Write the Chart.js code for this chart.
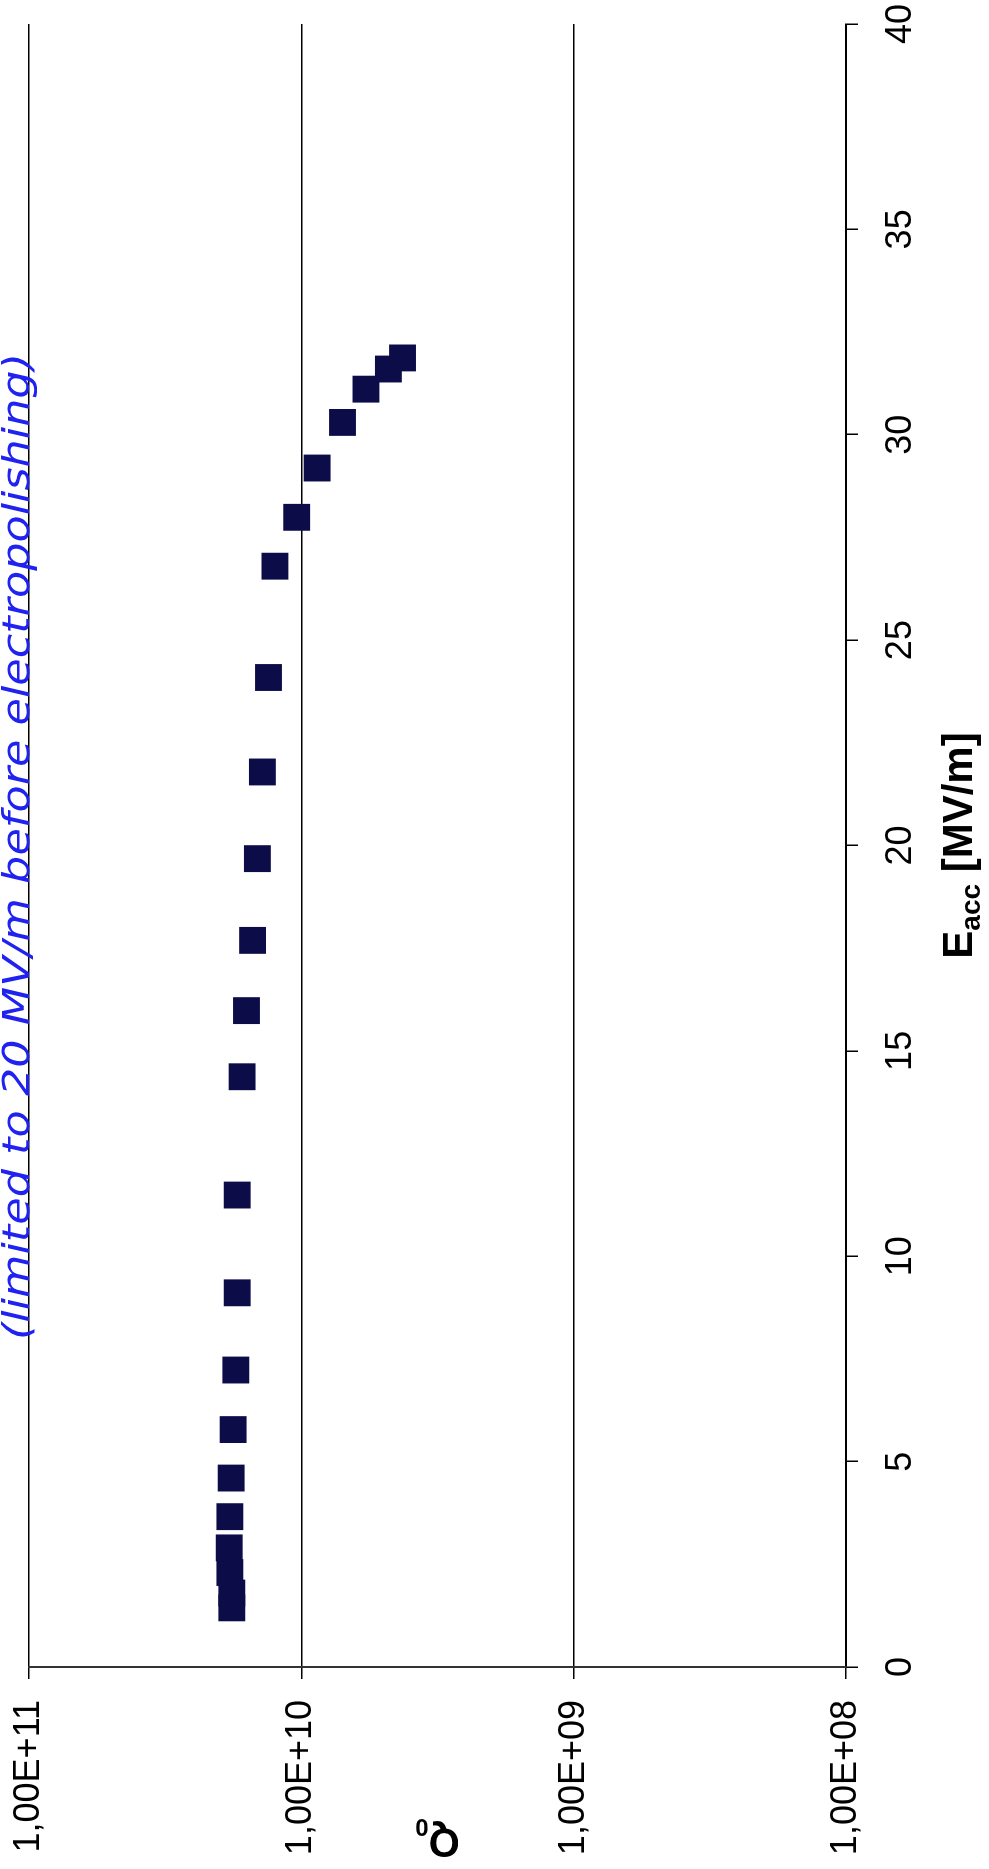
<!DOCTYPE html>
<html>
<head>
<meta charset="utf-8">
<script src="https://cdn.jsdelivr.net/npm/chart.js@4.4.1/dist/chart.umd.min.js"></script>
<style>
  html, body { margin: 0; padding: 0; background: #fff; overflow: hidden; width: 989px; height: 1869px; }
  /* the chart is laid out landscape and turned a quarter turn counter-clockwise */
  #frame { position: absolute; left: 0; top: 0; width: 1869px; height: 989px;
           transform-origin: 0 0; transform: translate(0, 1869px) rotate(-90deg); background: #fff; }
  canvas { display: block; }
</style>
</head>
<body>
<div id="frame"><canvas id="c" width="1869" height="989"></canvas></div>
<script>
// Accelerating gradient E_acc [MV/m] and quality factor Q0
const eAcc = [1.44, 1.80, 2.30, 2.90, 3.66, 4.60, 5.78, 7.23, 9.11, 11.49, 14.37, 15.98,
              17.69, 19.68, 21.79, 24.09, 26.80, 27.99, 29.19, 30.30, 31.11, 31.60, 31.87];
const q0 = [1.80e10, 1.80e10, 1.83e10, 1.84e10, 1.83e10, 1.81e10, 1.78e10, 1.74e10, 1.72e10, 1.72e10,
            1.65e10, 1.59e10, 1.51e10, 1.45e10, 1.39e10, 1.32e10, 1.25e10, 1.04e10, 8.75e9, 7.06e9,
            5.79e9, 4.79e9, 4.25e9];

// Axis ranges and ticks
const eRange = [0, 40];
const eStep = 5;
const qTickValues = [1e8, 1e9, 1e10, 1e11];
const qTickLabels = ['1,00E+08', '1,00E+09', '1,00E+10', '1,00E+11'];

// Titles and the pen note
const xTitleMain = 'E', xTitleSub = 'acc', xTitleRest = ' [MV/m]';
const yTitleMain = 'Q', yTitleSub = '0';
const noteText = '(limited to 20 MV/m before electropolishing)';

const FONT = "'Liberation Sans', Arial, Helvetica, sans-serif";
const points = eAcc.map((e, i) => ({ x: e, y: q0[i] }));

// keep the plot box fixed: no extra room reserved for overhanging tick labels
function fixBox(s, size) {
  if (s.isHorizontal()) s.height = size; else s.width = size;
  s.paddingLeft = s.paddingRight = s.paddingTop = s.paddingBottom = 0;
}

const titlesPlugin = {
  id: 'titles',
  afterDraw(chart) {
    const ctx = chart.ctx;
    const a = chart.chartArea;

    // E_acc axis title with subscript
    ctx.save();
    ctx.fillStyle = '#000';
    ctx.textAlign = 'left';
    ctx.textBaseline = 'alphabetic';
    const big = 'bold 42px ' + FONT, small = 'bold 28px ' + FONT;
    ctx.font = big;
    const w1 = ctx.measureText(xTitleMain).width;
    const w3 = ctx.measureText(xTitleRest).width;
    ctx.font = small;
    const w2 = ctx.measureText(xTitleSub).width;
    let x = (a.left + a.right) / 2 - (w1 + w2 + w3) / 2;
    const base = 972;
    ctx.font = big;   ctx.fillText(xTitleMain, x, base); x += w1;
    ctx.font = small; ctx.fillText(xTitleSub, x, base + 8); x += w2;
    ctx.font = big;   ctx.fillText(xTitleRest, x, base);
    ctx.restore();

    // Q0 axis title, vertical
    ctx.save();
    ctx.fillStyle = '#000';
    ctx.textAlign = 'left';
    ctx.textBaseline = 'alphabetic';
    ctx.translate(40, (a.top + a.bottom) / 2);
    ctx.rotate(-Math.PI / 2);
    const qBig = 'bold 40px ' + FONT, qSmall = 'bold 24px ' + FONT;
    ctx.font = qBig;
    const qw1 = ctx.measureText(yTitleMain).width;
    ctx.font = qSmall;
    const qw2 = ctx.measureText(yTitleSub).width;
    let qx = -(qw1 + qw2) / 2;
    ctx.font = qBig;   ctx.fillText(yTitleMain, qx, 0); qx += qw1;
    ctx.font = qSmall; ctx.fillText(yTitleSub, qx, 10);
    ctx.restore();

    // pen note along the top gridline
    ctx.save();
    ctx.fillStyle = '#1f22f0';
    ctx.textAlign = 'left';
    ctx.textBaseline = 'alphabetic';
    ctx.font = "italic 38px 'DejaVu Sans', sans-serif";
    const nw = ctx.measureText(noteText).width;
    ctx.translate(529, 29);
    ctx.scale(987 / nw, 1);
    ctx.fillText(noteText, 0, 0);
    ctx.restore();
  }
};

new Chart(document.getElementById('c'), {
  type: 'scatter',
  data: {
    datasets: [{
      data: points,
      pointStyle: 'rect',
      pointRadius: 19,
      pointHoverRadius: 19,
      backgroundColor: '#0c0c48',
      borderColor: '#0c0c48',
      borderWidth: 0
    }]
  },
  options: {
    responsive: false,
    animation: false,
    devicePixelRatio: 1,
    events: [],
    layout: { padding: { top: 29, right: 24, left: 0, bottom: 0 } },
    plugins: { legend: { display: false }, tooltip: { enabled: false } },
    scales: {
      x: {
        type: 'linear',
        position: 'bottom',
        min: eRange[0],
        max: eRange[1],
        ticks: { stepSize: eStep, font: { family: FONT, size: 36 }, color: '#000', padding: 21, maxRotation: 0, autoSkip: false },
        grid: { drawOnChartArea: false, drawTicks: true, tickLength: 12, color: '#000', lineWidth: 1.5 },
        border: { display: true, color: '#000', width: 2 },
        afterFit(s) { fixBox(s, 143); }
      },
      y: {
        type: 'logarithmic',
        position: 'left',
        min: qTickValues[0],
        max: qTickValues[qTickValues.length - 1],
        afterBuildTicks(s) { s.ticks = qTickValues.map(v => ({ value: v })); },
        ticks: {
          font: { family: FONT, size: 36 },
          color: '#000',
          padding: 21,
          autoSkip: false,
          callback: (v) => {
            const i = qTickValues.findIndex(t => Math.abs(t - v) / t < 1e-6);
            return i >= 0 ? qTickLabels[i] : '';
          }
        },
        grid: { drawOnChartArea: true, drawTicks: true, tickLength: 12, color: '#000', lineWidth: 1.5 },
        border: { display: true, color: '#333', width: 2 },
        afterFit(s) { fixBox(s, 202); }
      }
    }
  },
  plugins: [titlesPlugin]
});
</script>
</body>
</html>
